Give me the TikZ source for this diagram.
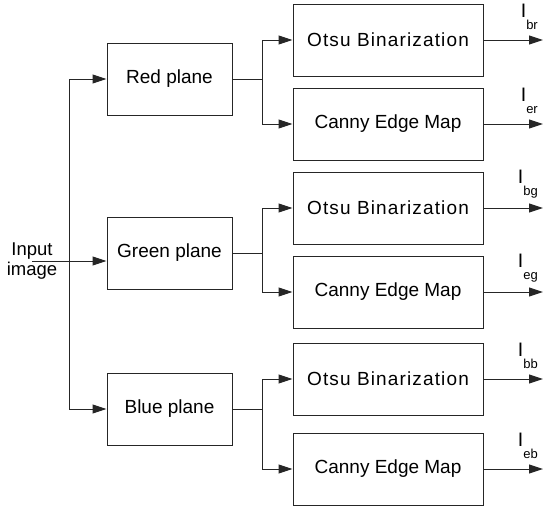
\documentclass[tikz,border=0pt]{standalone}
\usepackage{fontspec}
\setmainfont{Liberation Sans}
\newfontfamily\otsufont[LetterSpace=6]{Liberation Sans}
\usetikzlibrary{positioning, calc, arrows.meta}
\tikzstyle{Arrow} = [
%Create custom arrow style:
line width=1pt, draw=black!85,
-{Triangle[length=14pt, width=9pt]}
]
\tikzstyle{Line} = [line width=1pt, draw=black!85]
\newcommand{\outlabel}[1]{I\raisebox{-12pt}{\fontsize{13}{13}\selectfont #1}}

\begin{document}
\begin{tikzpicture}[x=1pt, y=-1pt,
			plane/.style = {rectangle, draw=black!85, line width=1pt, minimum width=125pt, minimum height=72pt, font=\fontsize{19}{23}\selectfont},
			process/.style = {rectangle, draw=black!85, line width=1pt, minimum width=190pt, minimum height=72pt, font=\fontsize{19}{23}\selectfont},
			result/.style = {inner sep=0pt, anchor=south east, font=\fontsize{19.5}{23}\selectfont},
		]
		\useasboundingbox (0,0) rectangle (545,507);

		\node[align=center, font=\fontsize{18.5}{20}\selectfont](IN) at (32,261){Input\\image};

		\node[plane](RP) at (169.5,79){Red plane};
		\node[plane](GP) at (169.5,253){Green plane};
		\node[plane](BP) at (169.5,409){Blue plane};

		\node[process](OR) at (388,40){\otsufont Otsu Binarization};
		\node[process](CR) at (388,124){Canny Edge Map};
		\node[process](OG) at (388,208){\otsufont Otsu Binarization};
		\node[process](CG) at (388,292){Canny Edge Map};
		\node[process](OB) at (388,379){\otsufont Otsu Binarization};
		\node[process](CB) at (388,469){Canny Edge Map};

		\coordinate(T) at (69,0);
		\coordinate(S) at (262,0);
		\coordinate(E) at (543,0);

		% input to the three planes
		\draw[Arrow](IN.center)--(IN.center -| GP.west);
		\draw[Line](RP.west -| T)--(BP.west -| T);
		\draw[Arrow](RP.west -| T)--(RP.west);
		\draw[Arrow](BP.west -| T)--(BP.west);

		% each plane to its two maps
		\foreach \p/\o/\c in {RP/OR/CR, GP/OG/CG, BP/OB/CB}{
			\draw[Line](\p.east)--(\p.east -| S);
			\draw[Line](\o.west -| S)--(\c.west -| S);
			\draw[Arrow](\o.west -| S)--(\o.west);
			\draw[Arrow](\c.west -| S)--(\c.west);
		}

		% outputs
		\foreach \b/\l in {OR/br, CR/er, OG/bg, CG/eg, OB/bb, CB/eb}{
			\coordinate(\b-out) at (\b.east -| E);
			\draw[Arrow](\b.east)--(\b-out);
			\node[result](L-\l) at ($(\b-out)+(-5,-10)$){\outlabel{\l}};
		}

	\end{tikzpicture}
\end{document}
